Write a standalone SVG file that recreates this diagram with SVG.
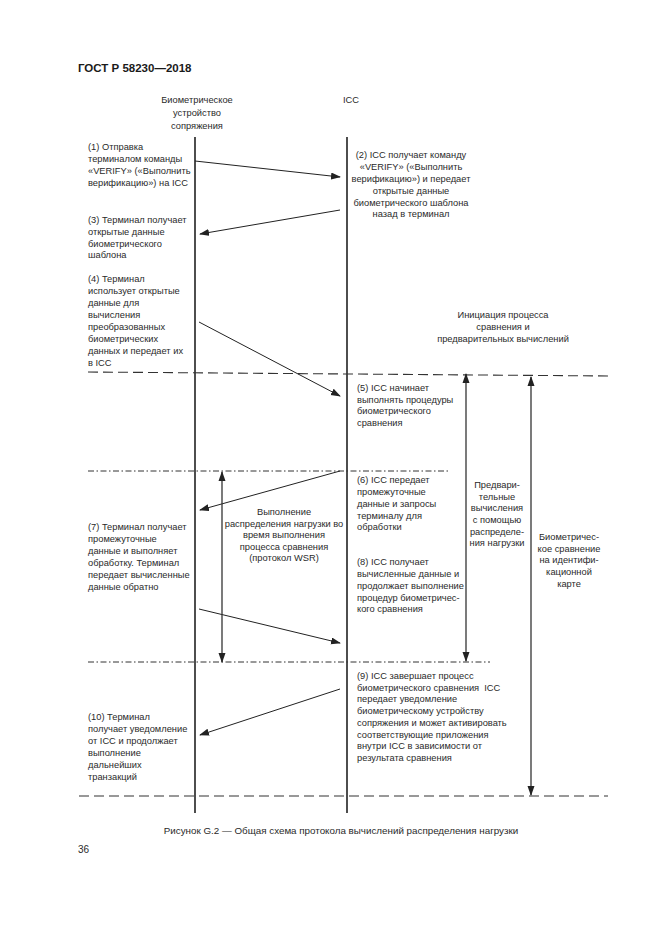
<svg xmlns="http://www.w3.org/2000/svg" width="661" height="935" viewBox="0 0 661 935">
<defs>
<style>
text{font-family:"Liberation Sans",Arial,sans-serif;font-size:9.3px;fill:#2a2a2a}
.c{text-anchor:middle}
.h{font-size:11.5px;font-weight:bold;fill:#1a1a1a}
.life{stroke:#3a3a3a;stroke-width:1.8;fill:none}
.msg{stroke:#222;stroke-width:1;fill:none;marker-end:url(#ah)}
.dash{stroke:#333;stroke-width:1.1;stroke-dasharray:10 5;fill:none}
.dd{stroke:#333;stroke-width:1;stroke-dasharray:6 2.5 1.5 2.5;fill:none}
.v{stroke:#333;stroke-width:1.3;fill:none;marker-end:url(#ah);marker-start:url(#ahs)}
</style>
<marker id="ah" markerWidth="10" markerHeight="8" refX="9" refY="3.5" orient="auto" markerUnits="userSpaceOnUse"><path d="M0,0 L10,3.5 L0,7 Z" fill="#222"/></marker>
<marker id="ahs" markerWidth="10" markerHeight="8" refX="1" refY="3.5" orient="auto" markerUnits="userSpaceOnUse"><path d="M10,0 L0,3.5 L10,7 Z" fill="#222"/></marker>
</defs>
<rect width="661" height="935" fill="#fff"/>
<text class="h" x="78" y="72">ГОСТ Р 58230—2018</text>

<g id="lifelines">
<line class="life" x1="195" y1="137" x2="195" y2="813"/>
<line class="life" x1="347" y1="137" x2="347" y2="813"/>
</g>

<g id="separators">
<line class="dash" x1="88" y1="372" x2="610" y2="376"/>
<line class="dd" x1="88" y1="471" x2="450" y2="471"/>
<line class="dd" x1="88" y1="662" x2="490" y2="662"/>
<line class="dash" x1="79" y1="796" x2="608" y2="796"/>
</g>

<g id="connectors">
<line class="msg" x1="195" y1="161" x2="340" y2="177"/>
<line class="msg" x1="340" y1="210" x2="200" y2="234"/>
<line class="msg" x1="199" y1="322" x2="340" y2="396"/>
<line class="msg" x1="340" y1="471" x2="200" y2="510"/>
<line class="msg" x1="199" y1="609" x2="340" y2="643"/>
<line class="msg" x1="340" y1="689" x2="200" y2="735"/>
<line class="v" x1="222" y1="472" x2="222" y2="662"/>
<line class="v" x1="466" y1="374" x2="466" y2="661"/>
<line class="v" x1="531" y1="377" x2="531" y2="795"/>
</g>

<g id="header-device">
<text class="c" x="197" y="103">Биометрическое</text>
<text class="c" x="197" y="116">устройство</text>
<text class="c" x="197" y="129">сопряжения</text>
</g>
<g id="header-icc"><text class="c" x="351" y="103">ICC</text></g>

<g id="step1">
<text x="88" y="150">(1) Отправка</text>
<text x="88" y="162">терминалом команды</text>
<text x="88" y="174">«VERIFY» («Выполнить</text>
<text x="88" y="186">верификацию») на ICC</text>
</g>
<g id="step2">
<text class="c" x="411" y="158">(2) ICC получает команду</text>
<text class="c" x="411" y="170">«VERIFY» («Выполнить</text>
<text class="c" x="411" y="182">верификацию») и передает</text>
<text class="c" x="411" y="194">открытые данные</text>
<text class="c" x="411" y="206">биометрического шаблона</text>
<text class="c" x="411" y="217">назад в терминал</text>
</g>
<g id="step3">
<text x="88" y="223">(3) Терминал получает</text>
<text x="88" y="235">открытые данные</text>
<text x="88" y="247">биометрического</text>
<text x="88" y="258">шаблона</text>
</g>
<g id="step4">
<text x="88" y="282">(4) Терминал</text>
<text x="88" y="294">использует открытые</text>
<text x="88" y="306">данные для</text>
<text x="88" y="318">вычисления</text>
<text x="88" y="330">преобразованных</text>
<text x="88" y="342">биометрических</text>
<text x="88" y="354">данных и передает их</text>
<text x="88" y="366">в ICC</text>
</g>
<g id="init-label">
<text class="c" x="503" y="318">Инициация процесса</text>
<text class="c" x="503" y="330">сравнения и</text>
<text class="c" x="503" y="342">предварительных вычислений</text>
</g>
<g id="step5">
<text x="357" y="391">(5) ICC начинает</text>
<text x="357" y="403">выполнять процедуры</text>
<text x="357" y="414">биометрического</text>
<text x="357" y="426">сравнения</text>
</g>
<g id="step6">
<text x="357" y="483">(6) ICC передает</text>
<text x="357" y="495">промежуточные</text>
<text x="357" y="507">данные и запросы</text>
<text x="357" y="519">терминалу для</text>
<text x="357" y="530">обработки</text>
</g>
<g id="wsr-label">
<text class="c" x="284" y="515">Выполнение</text>
<text class="c" x="284" y="527">распределения нагрузки во</text>
<text class="c" x="284" y="538">время выполнения</text>
<text class="c" x="284" y="550">процесса сравнения</text>
<text class="c" x="284" y="561">(протокол WSR)</text>
</g>
<g id="pre-label">
<text class="c" x="497" y="488">Предвари-</text>
<text class="c" x="497" y="500">тельные</text>
<text class="c" x="497" y="511">вычисления</text>
<text class="c" x="497" y="523">с помощью</text>
<text class="c" x="497" y="535">распределе-</text>
<text class="c" x="497" y="546">ния нагрузки</text>
</g>
<g id="bio-label">
<text class="c" x="569" y="540">Биометричес-</text>
<text class="c" x="569" y="552">кое сравнение</text>
<text class="c" x="569" y="563">на идентифи-</text>
<text class="c" x="569" y="575">кационной</text>
<text class="c" x="569" y="587">карте</text>
</g>
<g id="step7">
<text x="88" y="530">(7) Терминал получает</text>
<text x="88" y="542">промежуточные</text>
<text x="88" y="554">данные и выполняет</text>
<text x="88" y="566">обработку. Терминал</text>
<text x="88" y="578">передает вычисленные</text>
<text x="88" y="590">данные обратно</text>
</g>
<g id="step8">
<text x="357" y="565">(8) ICC получает</text>
<text x="357" y="577">вычисленные данные и</text>
<text x="357" y="589">продолжает выполнение</text>
<text x="357" y="601">процедур биометричес-</text>
<text x="357" y="612">кого сравнения</text>
</g>
<g id="step9">
<text x="357" y="679">(9) ICC завершает процесс</text>
<text x="357" y="691">биометрического сравнения&#160; ICC</text>
<text x="357" y="702">передает уведомление</text>
<text x="357" y="714">биометрическому устройству</text>
<text x="357" y="726">сопряжения и может активировать</text>
<text x="357" y="738">соответствующие приложения</text>
<text x="357" y="749">внутри ICC в зависимости от</text>
<text x="357" y="761">результата сравнения</text>
</g>
<g id="step10">
<text x="88" y="720">(10) Терминал</text>
<text x="88" y="732">получает уведомление</text>
<text x="88" y="744">от ICC и продолжает</text>
<text x="88" y="756">выполнение</text>
<text x="88" y="768">дальнейших</text>
<text x="88" y="780">транзакций</text>
</g>

<text class="c" x="341" y="834" style="font-size:9.8px">Рисунок G.2 — Общая схема протокола вычислений распределения нагрузки</text>
<text x="78" y="853" style="font-size:10px">36</text>
</svg>
